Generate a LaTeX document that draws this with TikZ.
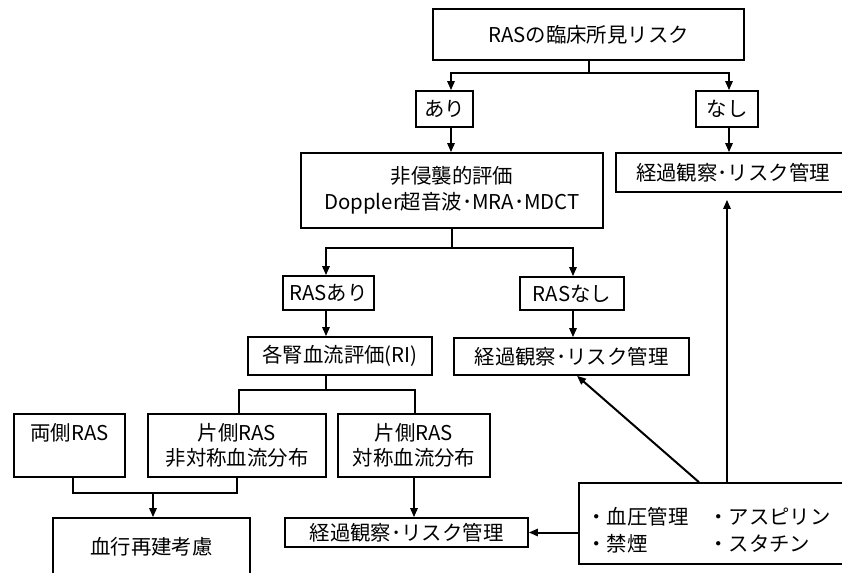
\documentclass[tikz,border=0pt]{standalone}
\usepackage{fontspec}
\setmainfont{Noto Sans CJK JP}
\usetikzlibrary{arrows.meta,calc}
\begin{document}
\begin{tikzpicture}[x=0.5pt,y=-0.5pt,
  box/.style={draw, line width=0.8pt, inner sep=0pt, align=center,
    font=\fontsize{10.2}{12.8}\selectfont},
  conn/.style={line width=1pt},
  arr/.style={line width=1pt, -{Triangle[length=4.5pt,width=3.6pt]}},
]
\useasboundingbox (0,0) rectangle (842,573);
\clip (0,0) rectangle (842,573);
\fill[white] (0,0) rectangle (842,573);

% nodes (centres and sizes measured in pixels; sizes in pt = px/2)
\node[box, minimum width=155.5pt, minimum height=25.5pt] (top) at (588.5,34.5) {RASの臨床所見リスク};
\node[box, minimum width=28.5pt, minimum height=18pt] (ari) at (444.5,109) {あり};
\node[box, minimum width=31pt, minimum height=18pt] (nashi) at (727,109) {なし};
\node[box, minimum width=151pt, minimum height=37.5pt] (noninv) at (452,190.5) {非侵襲的評価\\Doppler超音波･MRA･MDCT};
\node[box, minimum width=117pt, minimum height=19.5pt] (obsTop) at (733,172.5) {経過観察･リスク管理};
\node[box, minimum width=45.5pt, minimum height=17pt] (rasA) at (328.5,293) {RASあり};
\node[box, minimum width=52pt, minimum height=16.5pt] (rasN) at (572,293.5) {RASなし};
\node[box, minimum width=92pt, minimum height=19pt] (kaku) at (340,356) {各腎血流評価(RI)};
\node[box, minimum width=117.5pt, minimum height=18.5pt] (obsMid) at (571.5,356.5) {経過観察･リスク管理};
\node[box, minimum width=55.5pt, minimum height=31.5pt] (ryo) at (69.5,445.5) {両側RAS\\\vphantom{非}};
\node[box, minimum width=89pt, minimum height=31.5pt] (asym) at (237,445.5) {片側RAS\\非対称血流分布};
\node[box, minimum width=76pt, minimum height=31.5pt] (sym) at (414,445.5) {片側RAS\\対称血流分布};
\node[box, minimum width=98.5pt, minimum height=28.5pt] (revasc) at (151.5,546.5) {血行再建考慮};
\node[box, minimum width=121.5pt, minimum height=14.5pt] (obsBot) at (406.5,532.5) {経過観察･リスク管理};
\node[box, minimum width=135.5pt, minimum height=40.5pt] (life) at (714.5,523.5) {};
\node[inner sep=0pt, align=left, anchor=west, font=\fontsize{10.2}{13.5}\selectfont] (lifetxt) at (586,530.5)
  {\makebox[61pt][l]{・血圧管理}・アスピリン\\\makebox[61pt][l]{・禁煙}・スタチン};

% branch points
\coordinate (bA) at (451,73);
\coordinate (bN) at (729,73);
\coordinate (cA) at (326,248);
\coordinate (cN) at (573,248);
\coordinate (dK) at (326,390);
\coordinate (dL) at (239,390);
\coordinate (dR) at (415,390);
\coordinate (eL) at (73,493);
\coordinate (eR) at (237,493);
\coordinate (eM) at (153,493);
\coordinate (gD) at (699,0);
\coordinate (hD) at (577,0);
\coordinate (vU) at (727,0);

% top split
\draw[arr] (top.south) -- (top.south |- bA) -| (bA |- ari.north);
\draw[arr] (top.south |- bN) -| (bN |- nashi.north);
\draw[arr] (bA |- ari.south) -- (bA |- noninv.north);
\draw[arr] (bN |- nashi.south) -- (bN |- obsTop.north);

% non-invasive split
\draw[arr] (noninv.south) -- (noninv.south |- cA) -| (cA |- rasA.north);
\draw[arr] (noninv.south |- cN) -| (cN |- rasN.north);
\draw[arr] (cA |- rasA.south) -- (cA |- kaku.north);
\draw[arr] (cN |- rasN.south) -- (cN |- obsMid.north);

% RI split
\draw[conn] (dK |- kaku.south) -- (dK);
\draw[conn] (dL |- asym.north) -- (dL) -- (dR) -- (dR |- sym.north);

% bottom left merge
\draw[conn] (eL |- ryo.south) -- (eL) -- (eR) -- (eR |- asym.south);
\draw[arr] (eM) -- (eM |- revasc.north);

% symmetric -> observation
\draw[arr] (sym.south) -- (sym.south |- obsBot.north);

% lifestyle box connectors
\draw[arr] (life.west |- obsBot.east) -- (obsBot.east);
\draw[arr] (life.north -| gD) -- (obsMid.south -| hD);
\draw[arr, shorten >=3.5pt] (life.north -| vU) -- (obsTop.south -| vU);
\end{tikzpicture}
\end{document}
